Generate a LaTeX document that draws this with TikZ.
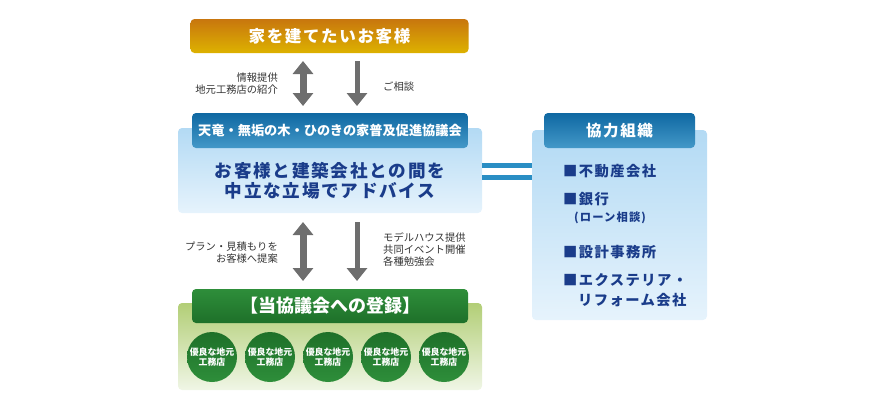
\documentclass[tikz,border=0pt]{standalone}
\usepackage{fontspec}
\setmainfont{Noto Sans CJK JP}
\newfontfamily\jpsp{Noto Sans CJK JP}[LetterSpace=10]
\usetikzlibrary{arrows.meta}
\definecolor{orgTop}{HTML}{C8760E}
\definecolor{orgBot}{HTML}{DDB200}
\definecolor{hdrTop}{HTML}{0F68A2}
\definecolor{hdrBot}{HTML}{4398C8}
\definecolor{panTop}{HTML}{B3DAF4}
\definecolor{panBot}{HTML}{E6F3FC}
\definecolor{grnTop}{HTML}{2E8E3A}
\definecolor{grnBot}{HTML}{1E7029}
\definecolor{gpTop}{HTML}{B2CE76}
\definecolor{gpBot}{HTML}{F0F6E6}
\definecolor{navy}{HTML}{1A3C8A}
\definecolor{lbl}{HTML}{333333}
\definecolor{arrg}{HTML}{6E6E6E}
\definecolor{conn}{HTML}{2A8EC4}
\begin{document}
\begin{tikzpicture}[x=1pt,y=-1pt,
  >={Triangle[width=20pt,length=13pt]},
  box/.style={rounded corners=4pt, inner sep=0pt, text=white, font=\jpsp\bfseries},
  panel/.style={rounded corners=4pt, inner sep=0pt},
  arr/.style={arrg, line width=7pt},
  lab/.style={text=lbl, font=\fontsize{10.3}{12}\selectfont, inner sep=0pt},
  item/.style={text=navy, font=\jpsp\bfseries\fontsize{14.3}{16}\selectfont, anchor=west, inner sep=0pt},
  circ/.style={circle, minimum size=50pt, inner sep=0pt, top color=grnBot, bottom color=grnTop, text=white, align=center, font=\bfseries\fontsize{8.9}{10.5}\selectfont},
  dbl/.style={conn, line width=5pt}
]
\useasboundingbox (0,0) rectangle (870,400);

% top box
\node[box, top color=orgTop, bottom color=orgBot, minimum width=278pt, minimum height=34pt,
  font=\jpsp\bfseries\fontsize{16.5}{18}\selectfont] (top) at (329.5,36) {家を建てたいお客様};

% main panel
\node[panel, top color=panTop, bottom color=panBot, minimum width=304pt, minimum height=85pt] (main) at (330,170.5) {};
\node[box, top color=hdrTop, bottom color=hdrBot, minimum width=276pt, minimum height=35pt,
  font=\bfseries\fontsize{13.2}{15}\selectfont] (hdr) at (330,130.5) {天竜・無垢の木・ひのきの家普及促進協議会};
\node[text=navy, align=center, inner sep=0pt, font=\jpsp\bfseries\fontsize{17.6}{20}\selectfont] (mtxt) at (330,180.5)
  {お客様と建築会社との間を\\中立な立場でアドバイス};

% right panel
\node[panel, top color=panTop, bottom color=panBot, minimum width=175pt, minimum height=190pt] (rp) at (619.5,225) {};
\node[box, top color=hdrTop, bottom color=hdrBot, minimum width=151pt, minimum height=35pt,
  font=\jpsp\bfseries\fontsize{15.5}{17}\selectfont] (rh) at (619.5,130.5) {協力組織};
\node[item] (i1) at (563,171) {■不動産会社};
\node[item] (i2) at (563,199) {■銀行};
\node[item, font=\jpsp\bfseries\fontsize{11.3}{13}\selectfont] (i2b) at (574,218) {(ローン相談)};
\node[item] (i3) at (563,252) {■設計事務所};
\node[item] (i4) at (563,280) {■エクステリア・};
\node[item] (i4b) at (578,300) {リフォーム会社};

% connector
\draw[dbl] ([yshift=5.5pt]main.east) -- ([yshift=5.5pt]main.east -| rp.west);
\draw[dbl] ([yshift=-6.5pt]main.east) -- ([yshift=-6.5pt]main.east -| rp.west);

% green panel
\node[panel, top color=gpTop, bottom color=gpBot, minimum width=304pt, minimum height=87pt] (gp) at (330,346.5) {};
\node[box, top color=grnTop, bottom color=grnBot, minimum width=276pt, minimum height=34pt,
  font=\bfseries\fontsize{18}{20}\selectfont] (gh) at (330,306) {【当協議会への登録】};
\foreach \i in {0,...,4} {
  \node[circ] (c\i) at (212+58*\i,357) {優良な地元\\工務店};
}

% arrows top
\coordinate (a1s) at (303,61); \coordinate (a1e) at (303,106);
\coordinate (a2s) at (357,61); \coordinate (a2e) at (357,106);
\draw[arr, <->] (a1s) -- (a1e);
\draw[arr, line width=5pt, ->] (a2s) -- (a2e);
\node[lab, anchor=east, align=right] (l1) at (278,84) {情報提供\\地元工務店の紹介};
\node[lab, anchor=west] (l2) at (383,87) {ご相談};

% arrows bottom
\coordinate (b1s) at (303,222); \coordinate (b1e) at (303,281);
\coordinate (b2s) at (357,222); \coordinate (b2e) at (357,281);
\draw[arr, <->] (b1s) -- (b1e);
\draw[arr, line width=5pt, ->] (b2s) -- (b2e);
\node[lab, anchor=east, align=right] (l3) at (278,252.5) {プラン・見積もりを\\お客様へ提案};
\node[lab, anchor=west, align=left] (l4) at (383,250) {モデルハウス提供\\共同イベント開催\\各種勉強会};
\end{tikzpicture}
\end{document}
